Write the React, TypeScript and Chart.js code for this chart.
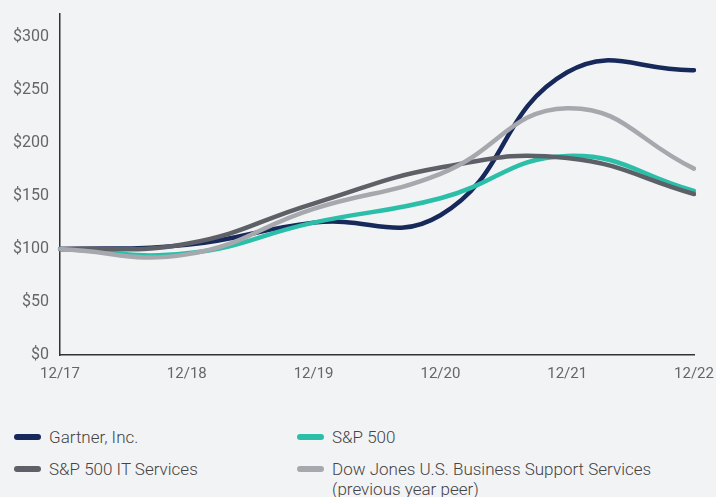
import React, { useEffect, useRef } from "react";
import { Chart, registerables } from "chart.js";

Chart.register(...registerables);

const years = ["12/17", "12/18", "12/19", "12/20", "12/21", "12/22"];
const gartner = [100, 104, 125, 132, 267, 269];
const sp500 = [100, 96, 125, 148, 188, 155];
const spIT = [100, 105, 143, 177, 186, 152];
const dowJones = [100, 95, 138, 171, 233, 176];

const seriesNames = [
  "Gartner, Inc.",
  "S&P 500",
  "S&P 500 IT Services",
  "Dow Jones U.S. Business Support Services\n(previous year peer)",
];
const seriesColors = ["#17295a", "#2bbfa9", "#5e6068", "#a6a8ad"];

const BG = "#f2f3f5";
const FONT = "Roboto, 'Liberation Sans', sans-serif";

export default function App() {
  const ref = useRef<HTMLCanvasElement | null>(null);

  useEffect(() => {
    if (!ref.current) return;
    const values = [gartner, sp500, spIT, dowJones];
    const order = [3, 2, 1, 0];
    const chart = new Chart(ref.current, {
      type: "line",
      data: {
        labels: years,
        datasets: order.map((i) => ({
          label: seriesNames[i],
          data: values[i],
          borderColor: seriesColors[i],
          backgroundColor: seriesColors[i],
          borderWidth: 4.5,
          pointRadius: 0,
          tension: 0.45,
          borderCapStyle: "round" as const,
          fill: false,
        })),
      },
      options: {
        animation: false,
        responsive: false,
        layout: { padding: { top: 14, right: 22, left: 0, bottom: 0 } },
        plugins: { legend: { display: false }, tooltip: { enabled: false } },
        scales: {
          x: {
            grid: { display: false, drawTicks: false },
            border: { display: true, color: "#333", width: 1.5 },
            offset: false,
            ticks: {
              color: "#666",
              font: { family: FONT, size: 15 },
              padding: 10,
              maxRotation: 0,
            },
            afterFit: (s: any) => {
              s.height = 30;
              s.paddingLeft = 0;
              s.paddingRight = 0;
            },
          },
          y: {
            min: 0,
            max: 322,
            grid: { display: false, drawTicks: false },
            border: { display: true, color: "#333", width: 1.5 },
            ticks: {
              stepSize: 50,
              includeBounds: false,
              color: "#666",
              font: { family: FONT, size: 16 },
              padding: 11,
              callback: (v: any) => "$" + v,
            },
            afterFit: (s: any) => {
              s.width = 60;
              s.paddingTop = 0;
              s.paddingBottom = 0;
            },
          },
        },
      },
    });
    return () => chart.destroy();
  }, []);

  const legendItem = (i: number, left: number, top: number) => (
    <div
      key={i}
      style={{
        position: "absolute",
        left,
        top,
        display: "flex",
        alignItems: "flex-start",
      }}
    >
      <div
        style={{
          width: 27,
          height: 6,
          borderRadius: 3,
          background: seriesColors[i],
          marginTop: 7,
          marginRight: 8,
        }}
      />
      <div
        style={{
          fontFamily: FONT,
          fontSize: 17,
          fontWeight: 300,
          color: "#444",
          lineHeight: "20px",
          whiteSpace: "pre",
        }}
      >
        {seriesNames[i]}
      </div>
    </div>
  );

  return (
    <div
      style={{
        position: "fixed",
        left: 0,
        top: 0,
        width: 716,
        height: 497,
        background: BG,
        overflow: "hidden",
      }}
    >
      <canvas
        ref={ref}
        width={716}
        height={385}
        style={{ position: "absolute", left: 0, top: 0, width: 716, height: 385 }}
      />
      {legendItem(0, 14, 427)}
      {legendItem(1, 297, 427)}
      {legendItem(2, 14, 459)}
      {legendItem(3, 297, 459)}
    </div>
  );
}
